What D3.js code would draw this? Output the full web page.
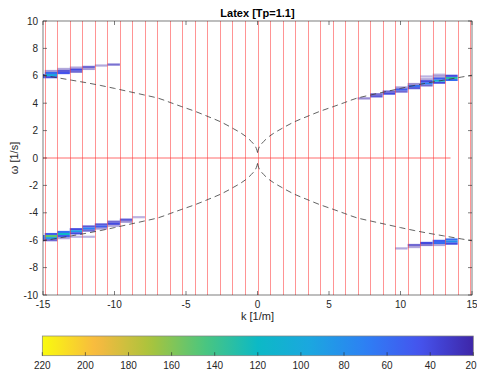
<!DOCTYPE html>
<html>
<head>
<meta charset="utf-8">
<script src="https://cdn.jsdelivr.net/npm/d3@7"></script>
<style>
  body { margin: 0; background: #fff; }
  text { font-family: "Liberation Sans", Arial, sans-serif; fill: #262626; }
</style>
</head>
<body>
<script>
// ---- data ----
var redLinesK = [-14.875, -14, -13.125, -12.25, -11.375, -10.5, -9.625, -8.75, -7.875, -7,
  -6.125, -5.25, -4.375, -3.5, -2.625, -1.75, -0.875, 0, 0.875, 1.75, 2.625, 3.5, 4.375,
  5.25, 6.125, 7, 7.875, 8.75, 9.625, 10.5, 11.375, 12.25, 13.125, 14, 14.875];
var zeroLineK = [-15, 13.5];

// dispersion curve, |k| vs |omega| (drawn in all four quadrants)
var curveK = [0, 0.15, 0.85, 1.7, 2.6, 3.4, 4.35, 5.3, 6.1, 6.9, 8, 9, 10, 11, 12, 13, 14, 15];
var curveW = [0.4, 0.85, 1.6, 2.15, 2.65, 3.0, 3.4, 3.75, 4.05, 4.35, 4.62, 4.85, 5.08, 5.3, 5.5, 5.68, 5.86, 6.04];

// spectrum cells: [k bin centre, omega, value]
var upperLeft = [
  [-15.31, 5.9, 50], [-15.31, 6.05, 40],
  [-14.44, 5.9, 40], [-14.44, 6.05, 100], [-14.44, 6.2, 60], [-14.44, 6.35, 18],
  [-13.56, 6.2, 45], [-13.56, 6.35, 35], [-13.56, 6.5, 16],
  [-12.69, 6.3, 30], [-12.69, 6.45, 40], [-12.69, 6.6, 16],
  [-11.81, 6.5, 18], [-11.81, 6.65, 30],
  [-10.94, 6.75, 16],
  [-10.06, 6.82, 28]
];
var upperRight = [
  [7.44, 4.35, 22],
  [8.31, 4.5, 35], [8.31, 4.65, 28],
  [9.19, 4.7, 40], [9.19, 4.85, 30],
  [10.06, 4.85, 30], [10.06, 5.0, 50], [10.06, 5.15, 18],
  [10.94, 5.1, 35], [10.94, 5.25, 60], [10.94, 5.4, 20],
  [11.81, 5.3, 30], [11.81, 5.45, 70], [11.81, 5.6, 40], [11.81, 5.75, 16], [11.81, 5.95, 14],
  [12.69, 5.5, 40], [12.69, 5.65, 110], [12.69, 5.8, 50], [12.69, 5.95, 16], [12.69, 6.08, 14],
  [13.56, 5.7, 60], [13.56, 5.85, 130], [13.56, 6.0, 40]
];
var lowerLeft = [
  [-15.31, -5.7, 60], [-15.31, -5.85, 50], [-15.31, -6.0, 30],
  [-14.44, -5.55, 50], [-14.44, -5.7, 150], [-14.44, -5.85, 90], [-14.44, -6.0, 30],
  [-13.56, -5.4, 60], [-13.56, -5.55, 120], [-13.56, -5.7, 50], [-13.56, -5.85, 16],
  [-12.69, -5.2, 40], [-12.69, -5.35, 90], [-12.69, -5.5, 40], [-12.69, -5.75, 14],
  [-11.81, -5.0, 35], [-11.81, -5.15, 70], [-11.81, -5.3, 30], [-11.81, -5.75, 14],
  [-10.94, -4.85, 35], [-10.94, -5.0, 50], [-10.94, -5.15, 18],
  [-10.06, -4.65, 30], [-10.06, -4.8, 40], [-10.06, -4.95, 16],
  [-9.19, -4.5, 35], [-9.19, -4.65, 20],
  [-8.31, -4.32, 14]
];
var lowerRight = [
  [10.06, -6.6, 16],
  [10.94, -6.35, 30], [10.94, -6.5, 16],
  [11.81, -6.2, 40], [11.81, -6.35, 25],
  [12.69, -6.05, 50], [12.69, -6.2, 60], [12.69, -6.35, 16],
  [13.56, -5.95, 60], [13.56, -6.1, 80], [13.56, -6.25, 40]
];

var xTicks = [-15, -10, -5, 0, 5, 10, 15];
var yTicks = [-10, -8, -6, -4, -2, 0, 2, 4, 6, 8, 10];
var cbTicks = [220, 200, 180, 160, 140, 120, 100, 80, 60, 40, 20];

// ---- layout ----
var svgWidth = 477, svgHeight = 369;
var margin = { top: 21, left: 43 };
var width = 429, height = 274;
var binWidth = 0.875, cellHeight = 0.16;

// parula-like colormap
var parula = ["#3e26a8", "#4554ee", "#2d80f4", "#1ca6e0", "#0cb9c6",
  "#4cc67e", "#aac43c", "#f8b940", "#f9fb0e"];
var color = d3.scaleLinear()
  .domain(parula.map((c, i) => 20 + 200 * i / (parula.length - 1)))
  .range(parula)
  .clamp(true);
var alpha = d3.scaleLinear().domain([14, 40]).range([0.35, 1]).clamp(true);

var svg = d3.select("body").append("svg")
  .attr("width", svgWidth)
  .attr("height", svgHeight);

var x = d3.scaleLinear().domain([-15, 15]).range([0, width]);
var y = d3.scaleLinear().domain([-10, 10]).range([height, 0]);

svg.append("defs").append("clipPath").attr("id", "plot-clip")
  .append("rect").attr("width", width).attr("height", height);

var chartGroup = svg.append("g")
  .attr("transform", `translate(${margin.left}, ${margin.top})`);

var plot = chartGroup.append("g").attr("clip-path", "url(#plot-clip)");

// spectrum cells
[upperLeft, upperRight, lowerLeft, lowerRight].forEach(function(cells) {
  plot.append("g").selectAll("rect")
    .data(cells)
    .enter()
    .append("rect")
    .attr("x", d => x(d[0] - binWidth / 2))
    .attr("y", d => y(d[1] + cellHeight / 2))
    .attr("width", x(binWidth) - x(0))
    .attr("height", y(0) - y(cellHeight))
    .attr("fill", d => color(d[2]))
    .attr("fill-opacity", d => alpha(d[2]));
});

// red grid lines
var redColor = "#ff3c3c";
plot.append("g").selectAll("line")
  .data(redLinesK)
  .enter()
  .append("line")
  .attr("x1", d => Math.round(x(d)) + 0.5)
  .attr("x2", d => Math.round(x(d)) + 0.5)
  .attr("y1", 0)
  .attr("y2", height)
  .attr("stroke", redColor)
  .attr("stroke-opacity", 0.55)
  .attr("stroke-width", 1);

plot.append("line")
  .attr("x1", x(zeroLineK[0]))
  .attr("x2", x(zeroLineK[1]))
  .attr("y1", y(0))
  .attr("y2", y(0))
  .attr("stroke", redColor)
  .attr("stroke-opacity", 0.75)
  .attr("stroke-width", 1);

// dashed dispersion curves
var line = d3.line()
  .x(d => x(d[0]))
  .y(d => y(d[1]))
  .curve(d3.curveCatmullRom);

[[-1, 1], [1, 1], [-1, -1], [1, -1]].forEach(function(s) {
  var pts = curveK.map((k, i) => [s[0] * k, s[1] * curveW[i]]);
  plot.append("path")
    .attr("d", line(pts))
    .attr("fill", "none")
    .attr("stroke", "#3a3a3a")
    .attr("stroke-width", 0.8)
    .attr("stroke-dasharray", "6,4");
});

// axes box with inward ticks
var axisColor = "#262626";
chartGroup.append("rect")
  .attr("x", 0).attr("y", 0)
  .attr("width", width).attr("height", height)
  .attr("fill", "none")
  .attr("stroke", axisColor)
  .attr("stroke-width", 0.6);

var tickLen = 4;
xTicks.forEach(function(t) {
  chartGroup.append("line")
    .attr("x1", x(t)).attr("x2", x(t))
    .attr("y1", height).attr("y2", height - tickLen)
    .attr("stroke", axisColor).attr("stroke-width", 0.6);
  chartGroup.append("line")
    .attr("x1", x(t)).attr("x2", x(t))
    .attr("y1", 0).attr("y2", tickLen)
    .attr("stroke", axisColor).attr("stroke-width", 0.6);
  chartGroup.append("text")
    .attr("x", x(t))
    .attr("y", height + 12.5)
    .attr("text-anchor", "middle")
    .style("font-size", "10px")
    .text(t);
});

yTicks.forEach(function(t) {
  chartGroup.append("line")
    .attr("x1", 0).attr("x2", tickLen)
    .attr("y1", y(t)).attr("y2", y(t))
    .attr("stroke", axisColor).attr("stroke-width", 0.6);
  chartGroup.append("line")
    .attr("x1", width).attr("x2", width - tickLen)
    .attr("y1", y(t)).attr("y2", y(t))
    .attr("stroke", axisColor).attr("stroke-width", 0.6);
  chartGroup.append("text")
    .attr("x", -5)
    .attr("y", y(t) + 3.5)
    .attr("text-anchor", "end")
    .style("font-size", "10px")
    .text(t);
});

// labels
svg.append("text")
  .attr("x", margin.left + width / 2)
  .attr("y", 17)
  .attr("text-anchor", "middle")
  .style("font-size", "11px")
  .style("font-weight", "bold")
  .style("fill", "#000")
  .text("Latex [Tp=1.1]");

svg.append("text")
  .attr("x", margin.left + width / 2)
  .attr("y", 320)
  .attr("text-anchor", "middle")
  .style("font-size", "11px")
  .text("k [1/m]");

svg.append("text")
  .attr("transform", `translate(17.5, ${margin.top + height / 2}) rotate(-90)`)
  .attr("text-anchor", "middle")
  .style("font-size", "11px")
  .text("\u03C9 [1/s]");

// colorbar
var cb = { x0: 42.3, x1: 473.3, top: 336, bottom: 355.7 };
var cbScale = d3.scaleLinear().domain([220, 20]).range([cb.x0, cb.x1]);

var grad = svg.select("defs").append("linearGradient")
  .attr("id", "cb-grad")
  .attr("x1", 0).attr("x2", 1).attr("y1", 0).attr("y2", 0);
d3.range(0, 1.0001, 0.02).forEach(function(o) {
  grad.append("stop")
    .attr("offset", o)
    .attr("stop-color", color(220 - 200 * o));
});

svg.append("rect")
  .attr("x", cb.x0).attr("y", cb.top)
  .attr("width", cb.x1 - cb.x0).attr("height", cb.bottom - cb.top)
  .attr("fill", "url(#cb-grad)")
  .attr("stroke", "#808080")
  .attr("stroke-width", 0.7);

cbTicks.forEach(function(t, i) {
  svg.append("line")
    .attr("x1", cbScale(t)).attr("x2", cbScale(t))
    .attr("y1", cb.bottom).attr("y2", cb.bottom - 3.5)
    .attr("stroke", axisColor).attr("stroke-width", 0.6);
  // last label pulled in so it stays inside the page
  var last = i === cbTicks.length - 1;
  svg.append("text")
    .attr("x", last ? svgWidth - 0.5 : cbScale(t))
    .attr("y", 368.5)
    .attr("text-anchor", last ? "end" : "middle")
    .style("font-size", "10px")
    .text(t);
});
</script>
</body>
</html>
